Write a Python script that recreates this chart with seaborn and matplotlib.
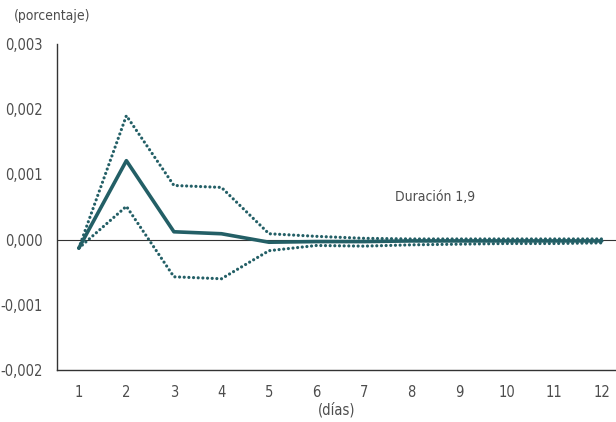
import matplotlib
matplotlib.use("Agg")
import matplotlib.pyplot as plt
import matplotlib.ticker as mticker
import seaborn as sns
import pandas as pd

# response by day
dias = list(range(1, 13))
respuesta = [-0.00013, 0.00121, 0.00012, 0.00009, -0.00004, -0.00003,
             -0.00003, -0.00002, -0.00002, -0.00002, -0.00002, -0.00002]
banda_sup = [-0.00013, 0.00190, 0.00083, 0.00080, 0.00009, 0.00005,
             0.00002, 0.00001, 0.00001, 0.00001, 0.00001, 0.00001]
banda_inf = [-0.00013, 0.00051, -0.00057, -0.00060, -0.00017, -0.00009,
             -0.00010, -0.00008, -0.00007, -0.00006, -0.00006, -0.00005]

y_ticks = [-0.002, -0.001, 0.0, 0.001, 0.002, 0.003]

COLOR = "#235f66"
TXT = "#4d4d4d"

sns.set_style("white")
plt.rcParams["font.family"] = ["DejaVu Sans"]
plt.rcParams["font.stretch"] = "condensed"

df = pd.DataFrame({"dia": dias, "resp": respuesta, "sup": banda_sup, "inf": banda_inf})

fig = plt.figure(figsize=(6.16, 4.22), dpi=100)
ax = fig.add_axes([0.0925, 0.123, 0.9075, 0.773])

ax.axhline(0, color="#333333", lw=0.8, zorder=1)
dots = dict(lw=2.3, linestyle=(0, (0.01, 1.45)), dash_capstyle="round", zorder=3)
sns.lineplot(data=df, x="dia", y="sup", ax=ax, color=COLOR, **dots)
sns.lineplot(data=df, x="dia", y="inf", ax=ax, color=COLOR, **dots)
sns.lineplot(data=df, x="dia", y="resp", ax=ax, color=COLOR, lw=2.6, zorder=4)

ax.set_xlim(0.54, 12.3)
ax.set_ylim(-0.002, 0.003)
ax.set_yticks(y_ticks)
ax.yaxis.set_major_formatter(mticker.FuncFormatter(
    lambda v, p: f"{v:.3f}".replace(".", ",").replace("-0,000", "0,000")))
ax.set_xticks(dias)
ax.set_xticks([d + 0.5 for d in dias[:-1]], minor=True)
ax.tick_params(axis="x", which="major", length=0, pad=11, labelsize=10.5, colors=TXT)
ax.tick_params(axis="x", which="minor", length=4, width=1, color="#333333", direction="out")
ax.tick_params(axis="y", length=4, width=1, color="#333333", direction="out",
               labelsize=10.5, labelcolor=TXT, pad=6)

for s in ["top", "right"]:
    ax.spines[s].set_visible(False)
for s in ["left", "bottom"]:
    ax.spines[s].set_color("#333333")
    ax.spines[s].set_linewidth(1)

ax.set_xlabel("(días)", fontsize=10.5, color=TXT, labelpad=1)
ax.set_ylabel("")
ax.text(8.5, 0.00066, "Duración 1,9", fontsize=10, color=TXT, ha="center", va="center")
fig.text(0.022, 0.962, "(porcentaje)", fontsize=10, color=TXT, ha="left", va="center")

fig.savefig("out.png", dpi=100)
